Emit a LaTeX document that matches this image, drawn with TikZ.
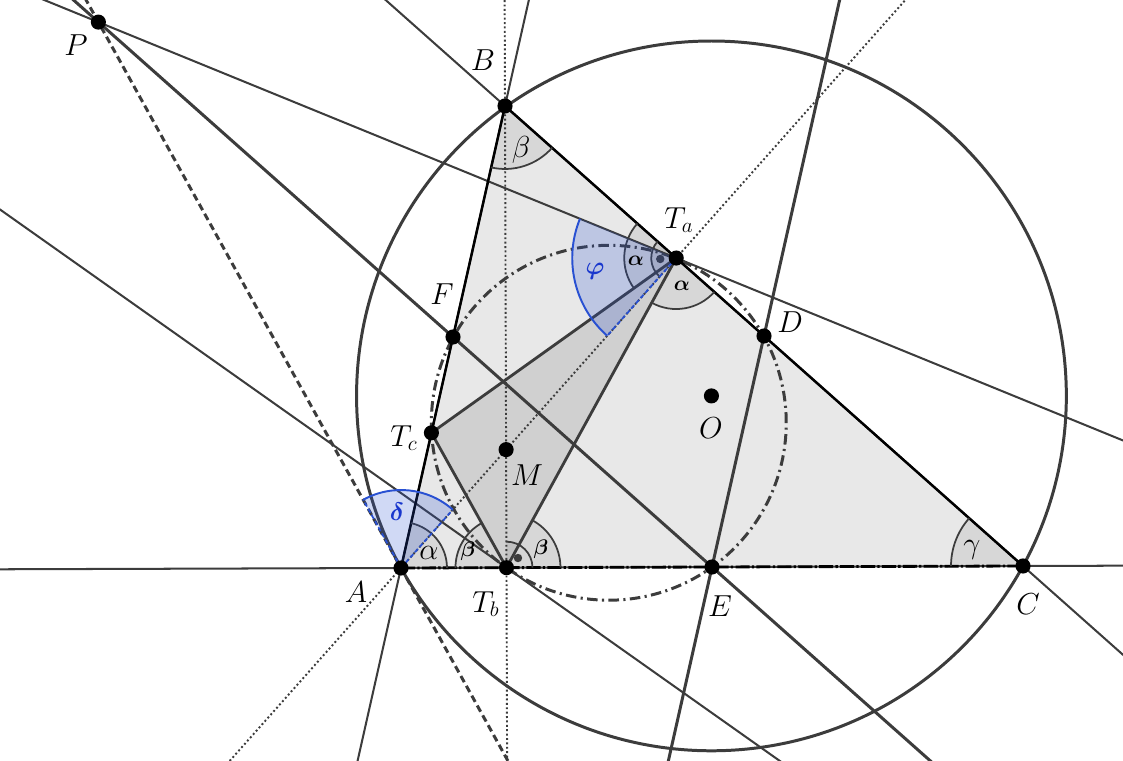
\documentclass[tikz,border=0pt]{standalone}
\usepackage{amsmath}
\usetikzlibrary{calc}
\definecolor{ln}{RGB}{60,60,60}
\definecolor{bl}{RGB}{40,80,210}
\definecolor{bltx}{RGB}{25,55,205}
\newcommand{\angfill}[5]{\fill[#5] (#1) -- ($(#1)+(#2:#4)$) arc[start angle=#2,end angle=#3,radius=#4] -- cycle;}
\newcommand{\angarc}[5]{\draw[#5] ($(#1)+(#2:#4)$) arc[start angle=#2,end angle=#3,radius=#4];}
\begin{document}
\begin{tikzpicture}[x=0.02cm,y=0.02cm,
  thinln/.style={draw=ln,line width=1.15pt},
  thickln/.style={draw=ln,line width=1.7pt},
  dotln/.style={draw=ln,line width=1.1pt,dash pattern=on 1.1pt off 1.4pt},
  tangentln/.style={draw=ln,line width=1.7pt,dash pattern=on 4pt off 2.4pt},
  npcircle/.style={draw=ln,line width=1.7pt,dash pattern=on 6pt off 2.5pt on 1.2pt off 2.5pt},
  side/.style={draw=black,line width=1.4pt},
  sideac/.style={draw=black,line width=1.6pt,dash pattern=on 8pt off 1.3pt on 1.3pt off 1.3pt},
  orth/.style={draw=ln,line width=1.6pt},
  gfill/.style={fill=black,fill opacity=0.07},
  bfill/.style={fill=bl,fill opacity=0.22},
  garc/.style={draw=ln,line width=1pt},
  barc/.style={draw=bl,line width=1.1pt},
  bedge/.style={draw=bl,line width=1pt,dash pattern=on 2.5pt off 1.5pt},
  dotpt/.style={circle,fill=black,inner sep=0pt,minimum size=8.6pt},
  smalldot/.style={circle,fill=ln,inner sep=0pt,minimum size=4.8pt},
  lbl/.style={font=\fontsize{18}{20}\selectfont,inner sep=0pt},
  glbl/.style={font=\fontsize{16}{18}\selectfont,inner sep=0pt},
  bglbl/.style={font=\fontsize{12}{14}\selectfont,inner sep=0pt},
  bluelbl/.style={font=\fontsize{14}{16}\selectfont,inner sep=0pt,text=bltx}
]
\useasboundingbox (0,0) rectangle (1123,761);
\clip (0,0) rectangle (1123,761);
% points
\coordinate (A) at (401,193);
\coordinate (B) at (505,655);
\coordinate (C) at (1023,195);
\coordinate (O) at (711.45,365.1);
\coordinate (D) at ($(B)!0.5!(C)$);
\coordinate (E) at ($(A)!0.5!(C)$);
\coordinate (F) at ($(A)!0.5!(B)$);
\coordinate (Ta) at ($(B)!(A)!(C)$);
\coordinate (Tb) at ($(A)!(B)!(C)$);
\coordinate (Tc) at ($(A)!(C)!(B)$);
\coordinate (M) at (intersection of A--Ta and B--Tb);
\coordinate (N) at ($(O)!0.5!(M)$);
\coordinate (At) at ($(A)!1!90:(O)$);
\coordinate (P) at (intersection of A--At and F--E);
\coordinate (L1) at (0,551.5);
% fills
\fill[black!9] (A) -- (B) -- (C) -- cycle;
\fill[black,fill opacity=0.1] (Ta) -- (Tb) -- (Tc) -- cycle;
\angfill{A}{0.18}{77.3}{0.92cm}{gfill}
\angfill{B}{257.3}{318.4}{1.26cm}{gfill}
\angfill{C}{138.4}{180.18}{1.44cm}{gfill}
\angfill{Tb}{119.1}{180.2}{1.02cm}{gfill}
\angfill{Tb}{0.18}{61.3}{1.08cm}{gfill}
\angfill{Tb}{61.3}{90.18}{0.52cm}{gfill}
\angfill{Ta}{138.4}{215.5}{1.04cm}{gfill}
\angfill{Ta}{241.3}{318.4}{1.02cm}{gfill}
\angfill{Ta}{138.4}{228.4}{0.5cm}{gfill}
% lines
\draw[thinln] ($(A)!-2!(C)$) -- ($(A)!3!(C)$);
\draw[thinln] ($(B)!-1!(A)$) -- ($(B)!3!(A)$);
\draw[thinln] ($(B)!-2!(C)$) -- ($(B)!3!(C)$);
\draw[thickln] ($(F)!-3!(E)$) -- ($(F)!3!(E)$);
\draw[thickln] ($(D)!-4!(E)$) -- ($(D)!4!(E)$);
\draw[tangentln] ($(P)!-1!(A)$) -- ($(P)!2!(A)$);
\draw[dotln] ($(A)!-2!(Ta)$) -- ($(A)!3!(Ta)$);
\draw[dotln] ($(B)!-1!(Tb)$) -- ($(B)!3!(Tb)$);
\draw[thinln] ($(P)!-1!(Ta)$) -- ($(P)!3!(Ta)$);
\draw[thinln] ($(L1)!-1!(Tb)$) -- ($(L1)!3!(Tb)$);
\draw[thickln] (O) circle[radius=7.0992cm];
\draw[npcircle] (N) circle[radius=3.5496cm];
% triangle sides
\draw[side] (A) -- (B) -- (C);
\draw[sideac] (A) -- (C);
\draw[orth] (Ta) -- (Tb) -- (Tc) -- cycle;
% angle arcs
\angarc{A}{0.18}{77.3}{0.92cm}{garc}
\angarc{B}{257.3}{318.4}{1.26cm}{garc}
\angarc{C}{138.4}{180.18}{1.44cm}{garc}
\angarc{Tb}{119.1}{180.2}{1.02cm}{garc}
\angarc{Tb}{0.18}{61.3}{1.08cm}{garc}
\angarc{Tb}{0.18}{90.18}{0.52cm}{garc}
\angarc{Ta}{138.4}{215.5}{1.04cm}{garc}
\angarc{Ta}{241.3}{318.4}{1.02cm}{garc}
\angarc{Ta}{138.4}{228.4}{0.5cm}{garc}
\node[smalldot] (rTb) at ($(Tb)+(40:0.3cm)$) {};
\node[smalldot] (rTa) at ($(Ta)+(183.4:0.32cm)$) {};
% blue sectors
\angfill{A}{48.4}{119.0}{1.56cm}{bfill}
\angarc{A}{48.4}{119.0}{1.56cm}{barc}
\draw[bedge] (A) -- ($(A)+(48.4:1.56cm)$);
\draw[bedge] (A) -- ($(A)+(119.0:1.56cm)$);
\angfill{Ta}{157.8}{228.4}{2.08cm}{bfill}
\angarc{Ta}{157.8}{228.4}{2.08cm}{barc}
\draw[bedge] (Ta) -- ($(Ta)+(228.4:2.08cm)$);
% points
\foreach \p in {A,B,C,D,E,F,Ta,Tb,Tc,O,M,P}{\node[dotpt] (d\p) at (\p) {};}
% labels
\node[lbl] (lP) at (76,716) {$P$};
\node[lbl] (lB) at (483,701) {$B$};
\node[lbl] (lTa) at (679,541) {$T_a$};
\node[lbl] (lD) at (790,439) {$D$};
\node[lbl] (lF) at (442,467) {$F$};
\node[lbl] (lO) at (711,333) {$O$};
\node[lbl] (lTc) at (404,323) {$T_c$};
\node[lbl] (lM) at (527,286) {$M$};
\node[lbl] (lA) at (356,169) {$A$};
\node[lbl] (lTb) at (486,157) {$T_b$};
\node[lbl] (lE) at (720,155) {$E$};
\node[lbl] (lC) at (1028,157) {$C$};
\node[glbl] (gA) at (429,208) {$\alpha$};
\node[glbl] (gB) at (521,611) {$\beta$};
\node[glbl] (gC) at (972,211) {$\gamma$};
\node[bglbl] (gTb1) at (468,210) {$\boldsymbol{\beta}$};
\node[bglbl] (gTb2) at (541,212) {$\boldsymbol{\beta}$};
\node[bglbl] (gTa1) at (636,500) {$\boldsymbol{\alpha}$};
\node[bglbl] (gTa2) at (682,475) {$\boldsymbol{\alpha}$};
\node[bluelbl] (gphi) at (595,490) {$\boldsymbol{\varphi}$};
\node[bluelbl] (gdelta) at (397,249) {$\boldsymbol{\delta}$};
\end{tikzpicture}
\end{document}
